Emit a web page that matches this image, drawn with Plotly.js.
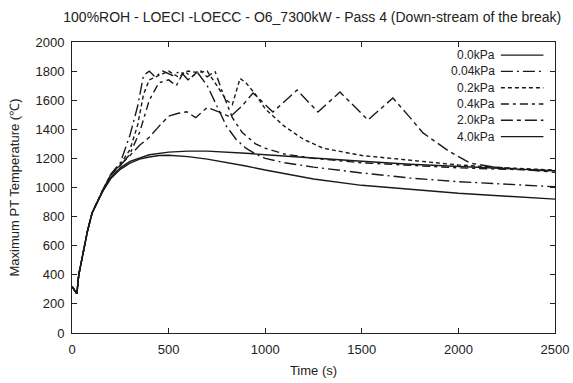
<!DOCTYPE html>
<html>
<head>
<meta charset="utf-8">
<script src="https://cdn.plot.ly/plotly-3.0.1.min.js"></script>
<style>html,body{margin:0;padding:0;background:#fff}#chart{width:573px;height:383px}</style>
</head>
<body>
<div id="chart"></div>
<script>
// Series names
const seriesNames = ["0.0kPa", "0.04kPa", "0.2kPa", "0.4kPa", "2.0kPa", "4.0kPa"];

// 0.0kPa
const t00 = [0,10,25,35,45,57,80,104,130,160,200,250,300,350,400,450,500,600,700,800,900,1000,1100,1250,1500,1750,2000,2250,2500];
const v00 = [320,300,270,400,470,560,700,825,900,975,1060,1125,1168,1195,1210,1220,1222,1212,1195,1172,1148,1120,1095,1058,1015,985,960,940,920];

// 0.04kPa
const t004 = [0,10,25,35,45,57,80,104,130,160,200,250,300,340,370,400,430,470,520,560,600,650,700,750,800,850,900,950,1000,1100,1250,1500,1750,2000,2250,2500];
const v004 = [320,300,270,400,470,560,700,825,900,985,1090,1170,1360,1560,1770,1800,1760,1800,1770,1800,1740,1790,1700,1560,1420,1330,1270,1230,1200,1170,1140,1100,1065,1040,1020,1005];

// 0.2kPa
const t02 = [0,10,25,35,45,57,80,104,130,160,200,250,300,340,370,400,450,500,550,600,650,700,750,800,830,870,900,950,1000,1100,1200,1300,1500,1750,2000,2250,2500];
const v02 = [320,300,270,400,470,560,700,825,900,985,1085,1160,1260,1430,1640,1740,1770,1800,1760,1800,1790,1800,1700,1600,1570,1750,1720,1640,1540,1420,1330,1270,1220,1185,1155,1135,1120];

// 0.4kPa
const t04 = [0,10,25,35,45,57,80,104,130,160,200,250,300,350,400,450,500,540,580,620,660,700,740,780,830,880,950,1000,1100,1250,1500,1750,2000,2250,2500];
const v04 = [320,300,270,400,470,560,700,825,900,985,1085,1150,1230,1380,1600,1720,1740,1700,1800,1760,1810,1760,1800,1650,1480,1380,1300,1270,1230,1200,1170,1150,1135,1125,1115];

// 2.0kPa
const t20 = [0,10,25,35,45,57,80,104,130,160,200,250,300,350,400,450,500,550,595,640,700,760,818,880,937,1040,1165,1273,1387,1532,1661,1750,1817,1950,2060,2179,2350,2500];
const v20 = [320,300,270,400,470,560,700,825,900,985,1085,1150,1220,1290,1345,1420,1490,1510,1520,1480,1550,1520,1485,1560,1650,1519,1670,1519,1656,1464,1615,1480,1375,1250,1168,1141,1120,1105];

// 4.0kPa
const t40 = [0,10,25,35,45,57,80,104,130,160,200,250,300,400,500,600,700,800,900,1000,1200,1500,1750,2000,2250,2500];
const v40 = [320,300,270,400,470,560,700,825,900,980,1070,1135,1180,1225,1243,1250,1250,1245,1235,1225,1205,1180,1160,1145,1130,1115];

const xTicks = [0,500,1000,1500,2000,2500];
const yTicks = [0,200,400,600,800,1000,1200,1400,1600,1800,2000];

const xs = [t00, t004, t02, t04, t20, t40];
const ys = [v00, v004, v02, v04, v20, v40];
const dashes = ["solid", "12px,4px,2px,4px", "4px,3px", "8px,4px,3px,4px", "12px,4px,4px,4px", "solid"];

const traces = seriesNames.map((n, i) => ({
  x: xs[i], y: ys[i], name: n, type: "scatter", mode: "lines",
  line: {color: "#1a1a1a", width: 1.4, dash: dashes[i], shape: "linear"},
  showlegend: false
}));

const FAM = "Liberation Sans, Arial, sans-serif";

// Custom legend: text right-aligned, line sample to its right (as in reference)
const annotations = [];
const shapes = [];
const legTop = 0.955, legStep = 0.056;
seriesNames.forEach((n, i) => {
  const yy = legTop - i * legStep;
  annotations.push({
    xref: "paper", yref: "paper", x: 0.88, y: yy, xanchor: "right", yanchor: "middle",
    text: n, showarrow: false, font: {family: FAM, size: 12, color: "#222"}
  });
  shapes.push({
    type: "line", xref: "paper", yref: "paper", x0: 0.888, x1: 0.976, y0: yy, y1: yy,
    line: {color: "#1a1a1a", width: 1.4, dash: dashes[i]}
  });
});

const axisFont = {family: FAM, size: 13, color: "#222"};

const layout = {
  width: 573, height: 383,
  margin: {l: 72, r: 18, t: 42, b: 50},
  paper_bgcolor: "#fff", plot_bgcolor: "#fff",
  title: {text: "100%ROH - LOECI -LOECC - O6_7300kW - Pass 4 (Down-stream of the break)",
          font: {family: FAM, size: 14, color: "#222"},
          x: 0.545, xanchor: "center", y: 0.955, yanchor: "middle"},
  xaxis: {range: [0, 2500], tickvals: xTicks, ticktext: xTicks.map(String),
          showline: true, linecolor: "#222", linewidth: 1, mirror: "allticks",
          ticks: "inside", ticklen: 5, tickcolor: "#222", showgrid: false, zeroline: false,
          tickfont: axisFont, ticklabelstandoff: 4,
          title: {text: "Time (s)", font: axisFont, standoff: 10}},
  yaxis: {range: [0, 2000], tickvals: yTicks, ticktext: yTicks.map(String),
          showline: true, linecolor: "#222", linewidth: 1, mirror: "allticks",
          ticks: "inside", ticklen: 5, tickcolor: "#222", showgrid: false, zeroline: false,
          tickfont: axisFont, ticklabelstandoff: 4,
          title: {text: "Maximum PT Temperature (℃)", font: axisFont, standoff: 12}},
  annotations: annotations,
  shapes: shapes,
  showlegend: false
};

Plotly.newPlot("chart", traces, layout, {displayModeBar: false, staticPlot: true});
</script>
</body>
</html>
